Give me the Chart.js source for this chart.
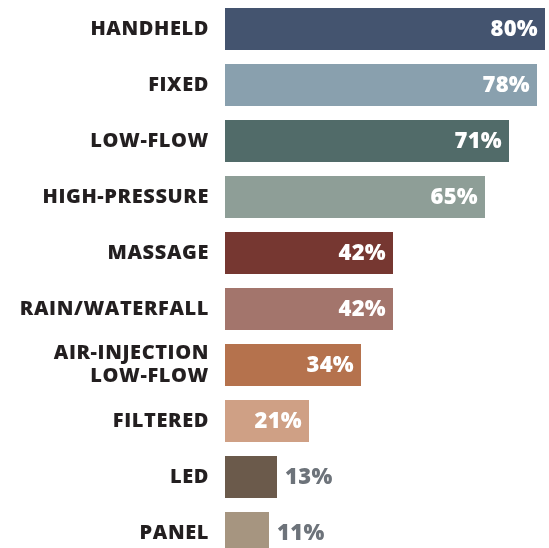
<!DOCTYPE html>
<html>
<head>
<meta charset="utf-8">
<script src="https://cdn.jsdelivr.net/npm/chart.js@4/dist/chart.umd.min.js"></script>
<style>
  html, body { margin: 0; padding: 0; background: #ffffff; overflow: hidden; }
  #wrap { position: relative; width: 549px; height: 562px; }
</style>
</head>
<body>
<div id="wrap"><canvas id="chart"></canvas></div>
<script>
// Shower head types and share of respondents (%)
const categories = [
  'HANDHELD', 'FIXED', 'LOW-FLOW', 'HIGH-PRESSURE', 'MASSAGE',
  'RAIN/WATERFALL', ['AIR-INJECTION', 'LOW-FLOW'], 'FILTERED', 'LED', 'PANEL'
];
const shares = [80, 78, 71, 65, 42, 42, 34, 21, 13, 11];
const barColors = [
  '#44546f', '#89a0ae', '#516b69', '#8e9e97', '#763731',
  '#a3756c', '#b5724d', '#cfa085', '#6b5a4b', '#a69580'
];
// Bars narrower than this get their value printed outside
const insideThreshold = 20;

const FONT = "'Open Sans', 'DejaVu Sans', sans-serif";

const spacing = {
  id: 'spacing',
  beforeDraw(chart) { chart.ctx.letterSpacing = '0.6px'; }
};

const valueLabels = {
  id: 'valueLabels',
  afterDatasetsDraw(chart) {
    const ctx = chart.ctx;
    const meta = chart.getDatasetMeta(0);
    ctx.save();
    ctx.font = '800 22px ' + FONT;
    ctx.letterSpacing = '0.3px';
    ctx.textBaseline = 'middle';
    meta.data.forEach((bar, i) => {
      const v = shares[i];
      const text = v + '%';
      if (v >= insideThreshold) {
        ctx.fillStyle = '#ffffff';
        ctx.textAlign = 'right';
        ctx.fillText(text, bar.x - 7, bar.y + 1);
      } else {
        ctx.fillStyle = '#6d737a';
        ctx.textAlign = 'left';
        ctx.fillText(text, bar.x + 8, bar.y + 1);
      }
    });
    ctx.restore();
  }
};

new Chart(document.getElementById('chart'), {
  type: 'bar',
  data: {
    labels: categories,
    datasets: [{
      data: shares,
      backgroundColor: barColors,
      borderWidth: 0,
      barPercentage: 0.75,
      categoryPercentage: 1.0
    }]
  },
  options: {
    indexAxis: 'y',
    responsive: true,
    maintainAspectRatio: false,
    animation: false,
    layout: { padding: { top: 1, right: 0, bottom: 1, left: 0 } },
    plugins: {
      legend: { display: false },
      tooltip: { enabled: false }
    },
    scales: {
      x: {
        display: false,
        min: 0,
        max: 81
      },
      y: {
        afterFit(scale) {
          scale.width = 225;
          scale.paddingTop = 0;
          scale.paddingBottom = 0;
        },
        grid: { display: false, drawTicks: false },
        border: { display: false },
        ticks: {
          color: '#231f20',
          padding: 16,
          font: { family: FONT, size: 20, weight: '800', lineHeight: 1.15 }
        }
      }
    }
  },
  plugins: [spacing, valueLabels]
});
</script>
</body>
</html>
